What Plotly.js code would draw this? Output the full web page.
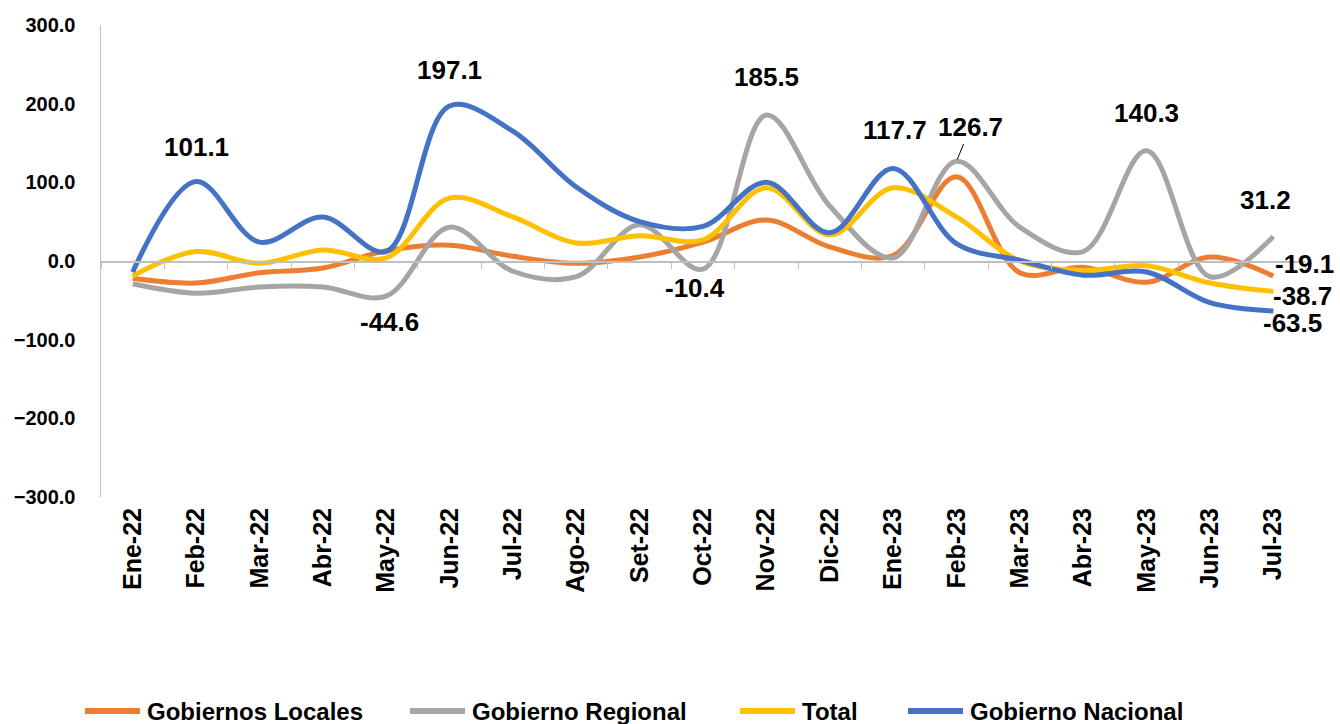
<!DOCTYPE html>
<html>
<head>
<meta charset="utf-8">
<script src="https://cdn.plot.ly/plotly-3.0.1.min.js"></script>
<style>html,body{margin:0;padding:0;background:#fff;}#chart{width:1340px;height:724px;}</style>
</head>
<body>
<div id="chart"></div>
<script>
// ---- data ----
const months = ['Ene-22','Feb-22','Mar-22','Abr-22','May-22','Jun-22','Jul-22','Ago-22','Set-22','Oct-22','Nov-22','Dic-22','Ene-23','Feb-23','Mar-23','Abr-23','May-23','Jun-23','Jul-23'];
const gobiernosLocales = [-22,-28,-15,-9,13,20,6,-3,5,24,52,18,7,107,-15,-8,-27,5,-19.1];
const gobiernoRegional = [-29,-41,-33,-33,-44.6,43,-13,-20,46,-10.4,185.5,70,4,126.7,43,12,140.3,-20,31.2];
const totalSerie = [-19,12,-3,14,4,80,56,23,32,27,93,33,93,56,0,-12,-6,-28,-38.7];
const gobiernoNacional = [-14,101.1,24,56,12,197.1,165,94,50,44,100,36,117.7,22,1,-18,-14,-53,-63.5];
const yTicks = [-300,-200,-100,0,100,200,300];

// ---- style ----
const series = [
  {name:'Gobiernos Locales', y:gobiernosLocales, color:'#ED7D31'},
  {name:'Gobierno Regional', y:gobiernoRegional, color:'#A5A5A5'},
  {name:'Total', y:totalSerie, color:'#FFC000'},
  {name:'Gobierno Nacional', y:gobiernoNacional, color:'#4472C4'}
];
const FONT = 'Liberation Sans, Arial, sans-serif';
const W = 1340, H = 724, M = {l:101, r:35, t:25, b:227};
const plotW = W - M.l - M.r, plotH = H - M.t - M.b;
const pxToPaperX = px => (px - M.l) / plotW;
const pxToPaperY = py => (H - M.b - py) / plotH;

const traces = series.map(s => ({
  type:'scatter', mode:'lines', name:s.name, x:months, y:s.y,
  line:{color:s.color, width:5, shape:'spline', smoothing:1},
  hoverinfo:'x+y+name', cliponaxis:false, showlegend:false
}));
// helper trace for the axis that crosses at zero
traces.push({type:'scatter', mode:'lines', x:months, y:months.map(()=>null), xaxis:'x2', showlegend:false, hoverinfo:'skip'});

// data labels: [series array, month index, xshift, yshift]
const labelSpecs = [
  [gobiernoNacional, 1, 0, 34],
  [gobiernoNacional, 5, 0, 36],
  [gobiernoRegional, 4, 3, -26],
  [gobiernoRegional, 10, 0, 38],
  [gobiernoRegional, 9, -8, -19],
  [gobiernoNacional, 12, 2, 38],
  [gobiernoRegional, 16, 0, 38],
  [gobiernoRegional, 18, -8, 36],
  [gobiernosLocales, 18, 31, 12],
  [totalSerie, 18, 29, -5],
  [gobiernoNacional, 18, 19, -12]
];
const LABEL_FONT = {family:FONT, size:26, color:'#000', weight:'bold'};
const annotations = labelSpecs.map(([arr, i, xs, ys]) => ({
  x: months[i], y: arr[i], xref:'x', yref:'y', text: arr[i].toFixed(1),
  showarrow:false, xanchor:'center', yanchor:'middle', xshift:xs, yshift:ys,
  font:LABEL_FONT
}));
// label with leader line
annotations.push({
  x: months[13], y: gobiernoRegional[13], xref:'x', yref:'y', text: gobiernoRegional[13].toFixed(1),
  showarrow:true, arrowhead:0, arrowwidth:1, arrowcolor:'#000', ax:14, ay:-34, standoff:2,
  font:LABEL_FONT
});

// legend (drawn as line swatches + text), pixel positions of each swatch start
const legendSwatchPx = [85, 410, 740, 908];
const legendY = 711, swatchLen = 55, textGap = 5;
const shapes = [];
series.forEach((s, k) => {
  const x0 = legendSwatchPx[k];
  shapes.push({type:'line', xref:'paper', yref:'paper',
    x0:pxToPaperX(x0), x1:pxToPaperX(x0 + swatchLen), y0:pxToPaperY(legendY), y1:pxToPaperY(legendY),
    line:{color:s.color, width:6}});
  annotations.push({xref:'paper', yref:'paper', x:pxToPaperX(x0 + swatchLen + textGap), y:pxToPaperY(legendY),
    xanchor:'left', yanchor:'middle', showarrow:false, text:s.name,
    font:{family:FONT, size:24, color:'#000', weight:'bold'}});
});

const layout = {
  width:W, height:H,
  margin:M,
  paper_bgcolor:'#fff', plot_bgcolor:'#fff',
  showlegend:false,
  xaxis:{type:'category', categoryorder:'array', categoryarray:months, range:[-0.5,18.5],
    showline:false, ticks:'', showgrid:false, zeroline:false, tickangle:-90,
    tickfont:{family:FONT, size:25, color:'#000', weight:'bold'}, ticklabelstandoff:5},
  xaxis2:{type:'category', categoryorder:'array', categoryarray:months, range:[-0.5,18.5],
    overlaying:'x', anchor:'free', position:0.5, side:'bottom',
    showline:true, linecolor:'#BFBFBF', linewidth:1.5, ticks:'outside', tickson:'boundaries', ticklen:6, tickcolor:'#BFBFBF',
    showticklabels:false, showgrid:false, zeroline:false},
  yaxis:{range:[-300,300], tickvals:yTicks, tickformat:'.1f', showgrid:false, zeroline:false,
    showline:true, linecolor:'#BFBFBF', linewidth:1.5, ticks:'',
    tickfont:{family:FONT, size:20, color:'#000', weight:'bold'}, ticklabelstandoff:20},
  annotations: annotations,
  shapes: shapes
};

Plotly.newPlot('chart', traces, layout, {displayModeBar:false, staticPlot:true});
</script>
</body>
</html>
